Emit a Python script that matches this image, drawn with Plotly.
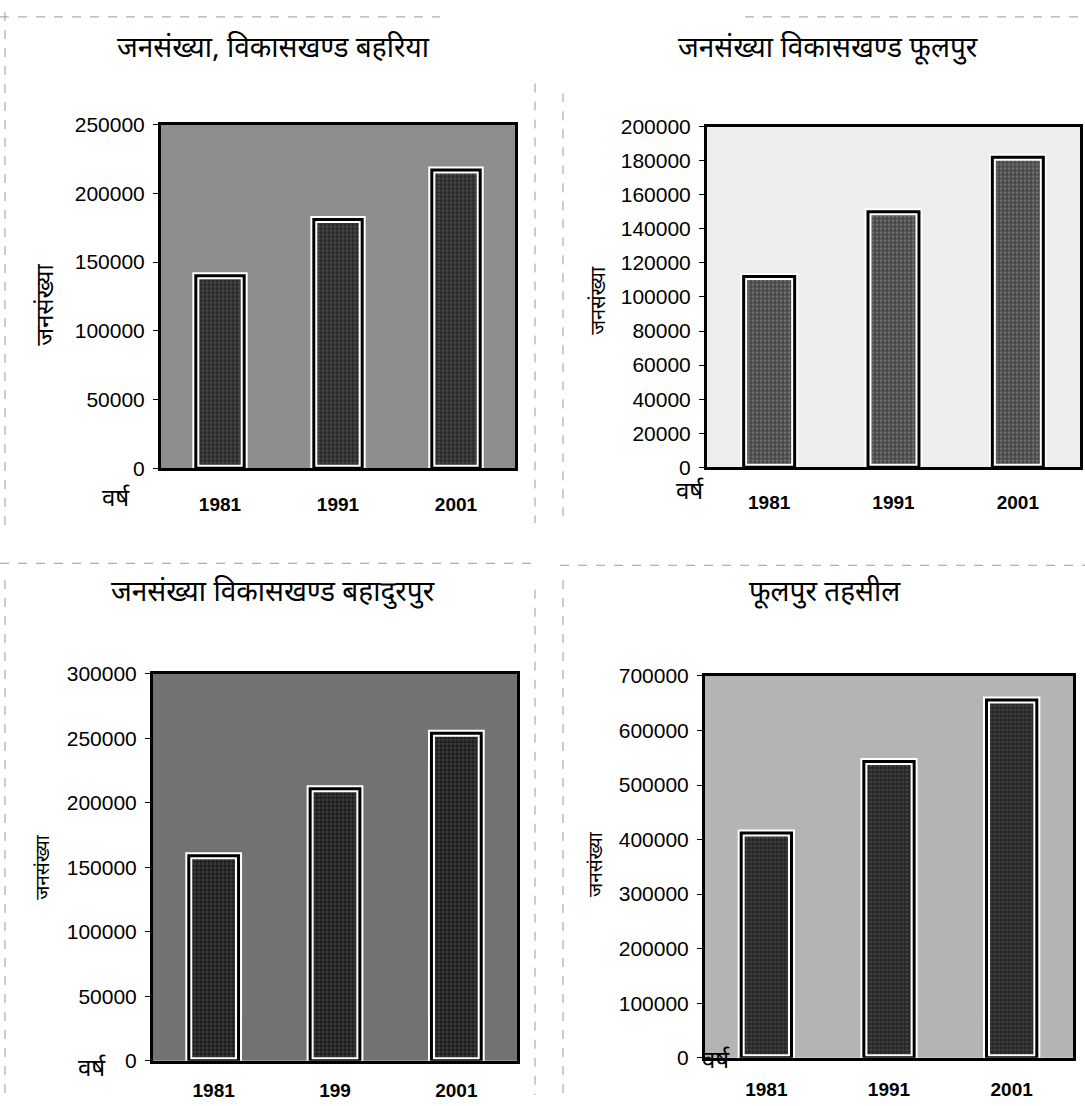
import plotly.graph_objects as go

W, H = 1085, 1106

years = ["1981", "1991", "2001"]
years_bahadurpur = ["1981", "199", "2001"]

bahariya = [140000, 181000, 217000]
phoolpur_block = [112000, 150000, 182000]
bahadurpur = [159000, 211000, 254000]
phoolpur_tehsil = [412000, 543000, 656000]

titles = ["जनसंख्या, विकासखण्ड बहरिया", "जनसंख्या विकासखण्ड फूलपुर",
          "जनसंख्या विकासखण्ड बहादुरपुर", "फूलपुर तहसील"]
y_title = "जनसंख्या"
x_word = "वर्ष"

y_max = [250000, 200000, 300000, 700000]
y_step = [50000, 20000, 50000, 100000]

def px(x):
    return x / W

def py(y):
    return 1 - y / H

# panel geometry (pixels): left, right, top, bottom
boxes = [(161, 515, 115, 466), (707, 1080, 117, 465),
         (153, 517, 676, 1071), (705, 1073, 678, 1068)]
bg_colors = ["#8e8e8e", "#ededed", "#727272", "#b4b4b4"]
bar_bg = ["#2c2c2c", "#4a4a4a", "#222222", "#282828"]
bar_fg = ["#6a6a6a", "#9a9a9a", "#555555", "#5a5a5a"]
label_standoff = [17, 16, 10, 12]

DEV = "Noto Sans Devanagari, Lohit Devanagari, Mangal, sans-serif"
NUM = "Liberation Sans, Arial, sans-serif"

series = [(years, bahariya), (years, phoolpur_block),
          (years_bahadurpur, bahadurpur), (years, phoolpur_tehsil)]

fig = go.Figure()
for i, (cats, vals) in enumerate(series):
    n = i + 1
    xa = "x" if n == 1 else f"x{n}"
    ya = "y" if n == 1 else f"y{n}"
    # white halo around each bar
    fig.add_trace(go.Bar(
        x=cats, y=vals, xaxis=xa, yaxis=ya, showlegend=False,
        marker=dict(color=bar_bg[i], line=dict(color="white", width=7),
                    pattern=dict(shape=".", bgcolor=bar_bg[i], fgcolor=bar_fg[i],
                                 size=4, solidity=0.35)),
        hoverinfo="skip"))
    # black outline
    fig.add_trace(go.Bar(
        x=cats, y=vals, xaxis=xa, yaxis=ya, showlegend=False,
        marker=dict(color="rgba(0,0,0,0)", line=dict(color="black", width=3)),
        hoverinfo="skip"))

layout = dict(width=W, height=H, margin=dict(l=0, r=0, t=0, b=0),
              paper_bgcolor="white", plot_bgcolor="rgba(0,0,0,0)",
              barmode="overlay", bargap=0.59, showlegend=False)

shapes = []
annotations = []
title_pos = [(273, 38), (828, 38), (273, 594), (825, 594)]
ytitle_pos = [(47, 299, 24), (600, 295, 20), (45, 873, 19), (598, 870, 19)]
xword_pos = [(116, 498, 24), (690, 491, 24), (92, 1080, 24), (716, 1072, 24)]

for i in range(4):
    n = i + 1
    l, r, t, b = boxes[i]
    xk = "xaxis" if n == 1 else f"xaxis{n}"
    yk = "yaxis" if n == 1 else f"yaxis{n}"
    xa = "x" if n == 1 else f"x{n}"
    ya = "y" if n == 1 else f"y{n}"
    layout[xk] = dict(domain=[px(l), px(r)], anchor=ya, type="category",
                      showline=True, mirror=True, linecolor="black", linewidth=3,
                      showgrid=False, zeroline=False, ticks="",
                      ticklabelstandoff=label_standoff[i],
                      tickfont=dict(family=NUM, size=19, color="black", weight="bold"))
    layout[yk] = dict(domain=[py(b), py(t)], anchor=xa, range=[0, y_max[i]],
                      dtick=y_step[i], tick0=0,
                      showline=True, mirror=True, linecolor="black", linewidth=3,
                      showgrid=False, zeroline=False, ticks="outside", ticklen=5,
                      tickcolor="black", tickwidth=1, ticklabelstandoff=4,
                      tickformat="d",
                      tickfont=dict(family=NUM, size=21, color="black"))
    shapes.append(dict(type="rect", xref=f"{xa} domain", yref=f"{ya} domain",
                       x0=0, x1=1, y0=0, y1=1, layer="below",
                       fillcolor=bg_colors[i], line=dict(width=0)))
    tx, ty = title_pos[i]
    annotations.append(dict(text=titles[i], x=px(tx), y=py(ty), xref="paper", yref="paper",
                            showarrow=False, xanchor="center", yanchor="middle",
                            font=dict(family=DEV, size=28, color="black")))
    ax, ay, fs = ytitle_pos[i]
    annotations.append(dict(text=y_title, x=px(ax), y=py(ay), xref="paper", yref="paper",
                            showarrow=False, textangle=-90, xanchor="center", yanchor="middle",
                            font=dict(family=DEV, size=fs, color="black")))
    wx, wy, ws = xword_pos[i]
    annotations.append(dict(text=x_word, x=px(wx), y=py(wy), xref="paper", yref="paper",
                            showarrow=False, xanchor="center", yanchor="middle",
                            font=dict(family=DEV, size=ws, color="black")))

# scanned page frame lines
frame = [
    (0, 5, 440, 5), (745, 5, 1085, 5),
    (5, 0, 5, 530), (535, 73, 535, 522), (563, 83, 563, 518),
    (0, 563, 540, 563), (560, 565, 1085, 565),
    (5, 580, 5, 1106), (535, 590, 535, 1106), (563, 580, 563, 1106),
]
for x0, y0, x1, y1 in frame:
    shapes.append(dict(type="line", xref="paper", yref="paper",
                       x0=px(x0), y0=py(y0), x1=px(x1), y1=py(y1),
                       line=dict(color="#9a9a9a", width=1, dash="dash")))

layout["shapes"] = shapes
layout["annotations"] = annotations
fig.update_layout(**layout)
fig.write_html("out.html")
